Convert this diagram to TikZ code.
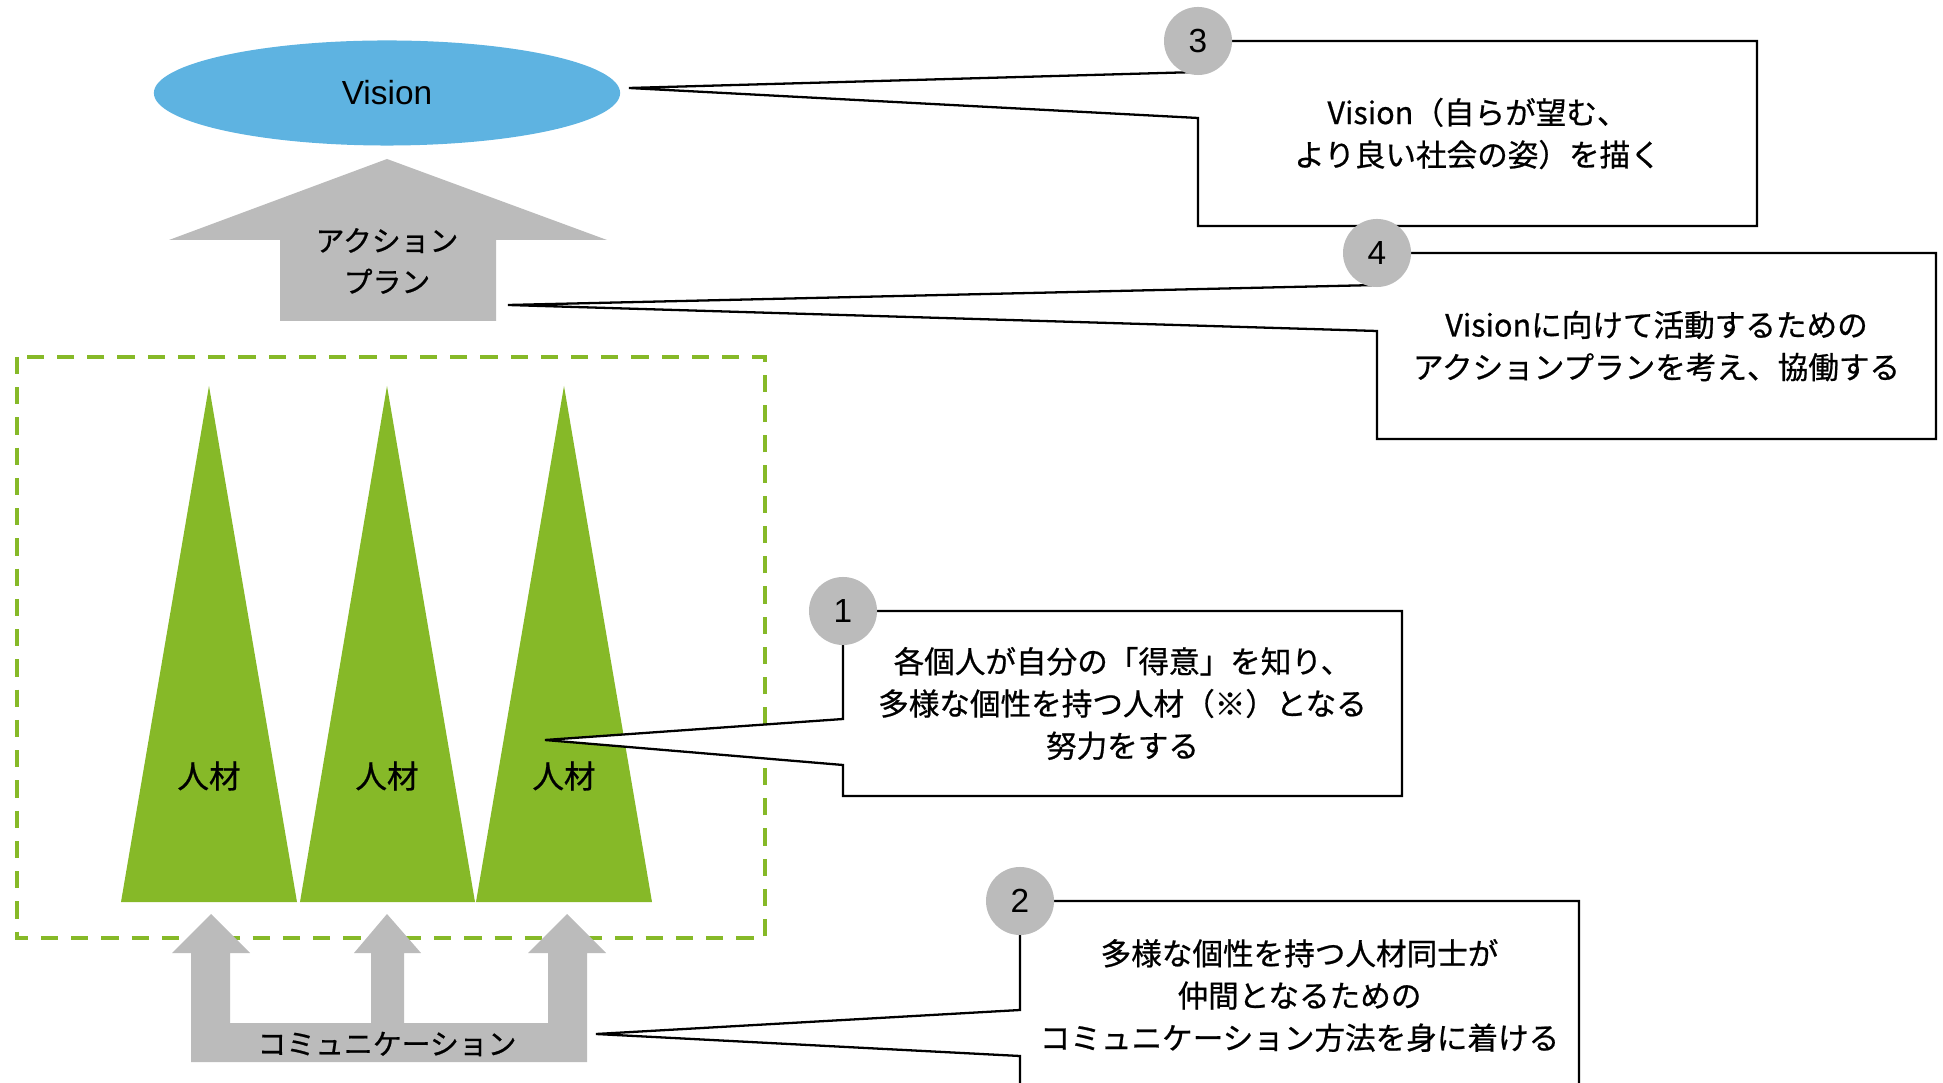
\documentclass[tikz,border=0pt]{standalone}
\usepackage{fontspec}
\setmainfont{Liberation Sans}
\newfontfamily\jpfont[FakeBold=0.7]{Noto Sans CJK JP}
\usepackage{tikz}
\usetikzlibrary{shapes,arrows}
\usetikzlibrary{positioning,calc}
\definecolor{visionblue}{RGB}{94,179,225}
\definecolor{talentgreen}{RGB}{134,185,40}
\definecolor{flowgray}{RGB}{187,187,187}
\tikzset{x=0.01cm, y=-0.01cm, font=\jpfont\fontsize{8.7}{12}\selectfont}
\tikzstyle{vision} = [fill=visionblue, ellipse, minimum width=4.66cm, minimum height=1.05cm, inner sep=0pt, font=\normalfont\fontsize{9.5}{10}\selectfont]
\tikzstyle{flow} = [fill=flowgray]
\tikzstyle{flowtext} = [align=center, inner sep=0pt, font=\jpfont\fontsize{8.2}{11.7}\selectfont]
\tikzstyle{talent} = [fill=talentgreen]
\tikzstyle{talentname} = [inner sep=0pt, font=\jpfont\fontsize{9}{9}\selectfont]
\tikzstyle{teambox} = [draw=talentgreen, line width=1.1pt, dash pattern=on 4.9pt off 3.7pt]
\tikzstyle{bubble} = [draw, fill=white, line width=0.65pt, line join=miter]
\tikzstyle{badge} = [fill=flowgray, circle, minimum size=0.68cm, inner sep=0pt, font=\normalfont\fontsize{9.5}{10}\selectfont]
\tikzstyle{note} = [align=center, inner sep=0pt]

\begin{document}
\begin{tikzpicture}
    \useasboundingbox (0,0) rectangle (1943,1083);
    \clip (0,0) rectangle (1943,1083);

    \draw [teambox] (17,357) rectangle (765,938);

    \fill [talent] (121,902) -- (209,386) -- (297,902) -- cycle;
    \fill [talent] (300,902) -- (387,386) -- (475,902) -- cycle;
    \fill [talent] (476,902) -- (564,386) -- (652,902) -- cycle;
    \node [talentname] (talent1) at (209,776) {人材};
    \node [talentname] (talent2) at (387,776) {人材};
    \node [talentname] (talent3) at (564,776) {人材};

    \node [vision] (vision) at (387,93) {Vision};

    \fill [flow] (280,321) -- (280,240) -- (169,240) -- (387,159) -- (607,240) -- (496,240) -- (496,321) -- cycle;
    \node [flowtext] (plan) at (387,261) {アクション\\プラン};

    \fill [flow] (191,1062) -- (191,953) -- (172,953) -- (211,914) -- (250,953) -- (230,953) -- (230,1023)
        -- (371,1023) -- (371,953) -- (354,953) -- (387,914) -- (421,953) -- (404,953) -- (404,1023)
        -- (548,1023) -- (548,953) -- (528,953) -- (567,914) -- (606,953) -- (587,953) -- (587,1062) -- cycle;
    \node [flowtext] (comm) at (387,1044) {コミュニケーション};

    \coordinate (tip3) at (629,88);
    \coordinate (nw3) at (1198,41);
    \coordinate (se3) at (1757,226);
    \coordinate (up3) at (1198,72);
    \coordinate (low3) at (1198,118);
    \draw [bubble] (tip3) -- (up3) |- (se3 |- nw3) |- (nw3 |- se3) -- (low3) -- cycle;
    \node [note] (note3) at ($(nw3)!.5!(se3)$) {Vision（自らが望む、\\より良い社会の姿）を描く};
    \node [badge] (badge3) at (nw3) {3};

    \coordinate (tip4) at (508,305);
    \coordinate (nw4) at (1377,253);
    \coordinate (se4) at (1936,439);
    \coordinate (up4) at (1377,285);
    \coordinate (low4) at (1377,331);
    \draw [bubble] (tip4) -- (up4) |- (se4 |- nw4) |- (nw4 |- se4) -- (low4) -- cycle;
    \node [note] (note4) at ($(nw4)!.5!(se4)$) {Visionに向けて活動するための\\アクションプランを考え、協働する};
    \node [badge] (badge4) at (nw4) {4};

    \coordinate (tip1) at (545,740);
    \coordinate (nw1) at (843,611);
    \coordinate (se1) at (1402,796);
    \coordinate (up1) at (843,719);
    \coordinate (low1) at (843,765);
    \draw [bubble] (tip1) -- (up1) |- (se1 |- nw1) |- (nw1 |- se1) -- (low1) -- cycle;
    \node [note] (note1) at ($(nw1)!.5!(se1)$) {各個人が自分の「得意」を知り、\\多様な個性を持つ人材（※）となる\\努力をする};
    \node [badge] (badge1) at (nw1) {1};

    \coordinate (tip2) at (596,1034);
    \coordinate (nw2) at (1020,901);
    \coordinate (se2) at (1579,1090);
    \coordinate (up2) at (1020,1010);
    \coordinate (low2) at (1020,1056);
    \draw [bubble] (tip2) -- (up2) |- (se2 |- nw2) |- (nw2 |- se2) -- (low2) -- cycle;
    \node [note] (note2) at ($(nw2)!.5!(se2)$) {多様な個性を持つ人材同士が\\仲間となるための\\コミュニケーション方法を身に着ける};
    \node [badge] (badge2) at (nw2) {2};
\end{tikzpicture}
\end{document}
